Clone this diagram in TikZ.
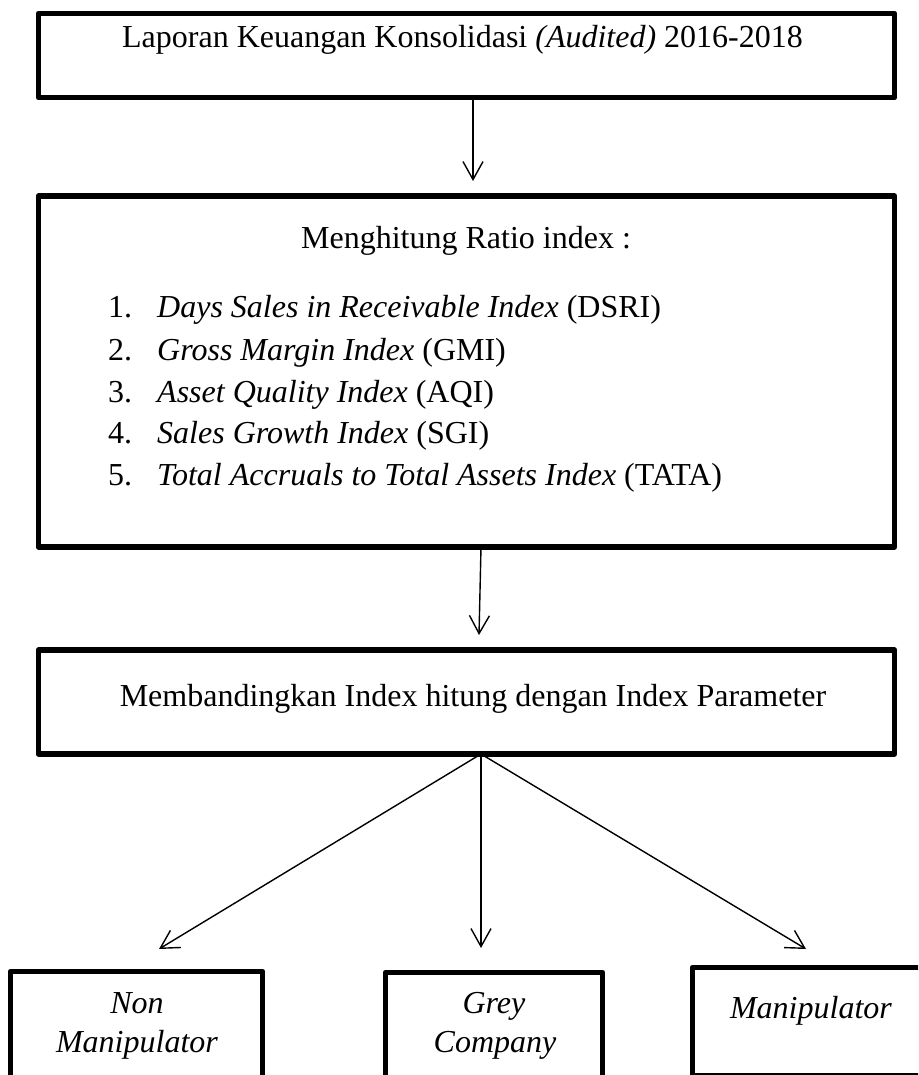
\documentclass[tikz,border=0pt]{standalone}
\usepackage{fontspec}
\setmainfont{Liberation Serif}
\usetikzlibrary{arrows.meta}
\begin{document}
\begin{tikzpicture}[x=1pt,y=-1pt,
  box/.style={draw, line width=5.5pt, line join=round, inner sep=0pt, outer sep=0pt},
  lbl/.style={font=\fontsize{32}{36}\selectfont, inner sep=0pt, anchor=base},
  itemlbl/.style={lbl, anchor=base west},
  conn/.style={line width=1.4pt, -{Straight Barb[length=18pt,width=20pt,line width=1.4pt]}}]
\path[use as bounding box] (0,0) rectangle (918,1075);
\clip (0,0) rectangle (918,1075);
% boxes
\node[box, minimum width=856pt, minimum height=84pt] (top) at (466.5,55.5) {};
\node[box, minimum width=856pt, minimum height=351pt] (ratio) at (466.5,371.5) {};
\node[box, minimum width=856pt, minimum height=104pt] (cmp) at (466.5,702) {};
\node[box, minimum width=252pt, minimum height=140pt] (non) at (136.5,1041.5) {};
\node[box, minimum width=217pt, minimum height=140pt] (grey) at (494,1042.5) {};
\node[box, minimum width=240pt, minimum height=108.5pt] (man) at (812.5,1021.75) {};
% texts
\node[lbl] (tlap) at (462.5,48) {Laporan Keuangan Konsolidasi \textit{(Audited)} 2016-2018};
\node[lbl] (tmen) at (466,248) {Menghitung Ratio index :};
\node[itemlbl] (n1) at (108,317) {1.};
\node[itemlbl] (i1) at (157,317) {\textit{Days Sales in Receivable Index} (DSRI)};
\node[itemlbl] (n2) at (108,360) {2.};
\node[itemlbl] (i2) at (157,360) {\textit{Gross Margin Index} (GMI)};
\node[itemlbl] (n3) at (108,402) {3.};
\node[itemlbl] (i3) at (157,402) {\textit{Asset Quality Index} (AQI)};
\node[itemlbl] (n4) at (108,443) {4.};
\node[itemlbl] (i4) at (157,443) {\textit{Sales Growth Index} (SGI)};
\node[itemlbl] (n5) at (108,485) {5.};
\node[itemlbl] (i5) at (157,485) {\textit{Total Accruals to Total Assets Index} (TATA)};
\node[lbl] (tcmp) at (473,706) {Membandingkan Index hitung dengan Index Parameter};
\node[lbl] (tnon1) at (137,1013) {\textit{Non}};
\node[lbl] (tnon2) at (137,1052) {\textit{Manipulator}};
\node[lbl] (tgrey1) at (494,1013) {\textit{Grey}};
\node[lbl] (tgrey2) at (495,1052) {\textit{Company}};
\node[lbl] (tman) at (811,1018) {\textit{Manipulator}};
% connectors
\coordinate (tip1) at (473,181);
\coordinate (tip2) at (479,635);
\coordinate (tipL) at (159,949);
\coordinate (tipM) at (481,948);
\coordinate (tipR) at (806,949);
\draw[conn] (top.south -| tip1) -- (tip1);
\draw[conn] ([xshift=14.5pt]ratio.south) -- (tip2);
\draw[conn] ([xshift=14.5pt]cmp.south) -- (tipL);
\draw[conn] ([xshift=14.5pt]cmp.south) -- (tipM);
\draw[conn] ([xshift=14.5pt]cmp.south) -- (tipR);
\end{tikzpicture}
\end{document}
